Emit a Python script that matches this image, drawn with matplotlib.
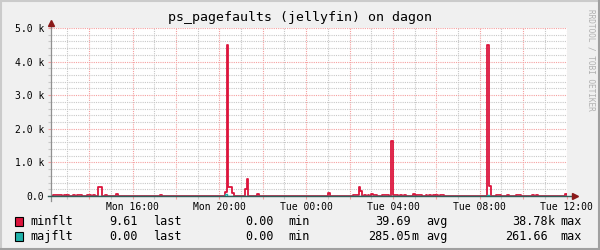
import numpy as np
import matplotlib.pyplot as plt
from matplotlib.patches import Rectangle
from matplotlib.lines import Line2D
from matplotlib.ticker import MultipleLocator

# sample start, minutes after Mon 12:00 (5 min steps), and values
minflt_min = [20, 25, 30, 35, 40, 50, 60, 75, 85, 90, 95, 115, 120, 130, 145, 150,
              165, 195, 315, 495, 500, 505, 510, 515, 550, 555, 585, 780,
              850, 855, 860, 865, 870, 880, 890, 900, 905, 910, 930, 935, 940, 945,
              955, 960, 965, 970, 980, 990, 1015, 1025, 1030, 1035, 1050, 1060, 1070,
              1080, 1090, 1095, 1220, 1225, 1245, 1250, 1255, 1275, 1300, 1305, 1310,
              1345, 1355, 1435]
minflt_val = [40, 40, 40, 40, 40, 40, 40, 40, 40, 40, 40, 40, 40, 40, 260, 260,
              40, 60, 40, 120, 4480, 270, 270, 90, 210, 510, 60, 90,
              40, 40, 40, 270, 150, 40, 40, 60, 40, 40, 40, 40, 40, 40,
              1640, 40, 40, 40, 40, 40, 60, 40, 40, 40, 40, 40, 40,
              40, 40, 40, 4500, 300, 40, 40, 40, 40, 40, 40, 40,
              40, 40, 60]
majflt_min = [495, 1220]
majflt_val = [60, 40]

xtick_hours = [4, 8, 12, 16, 20, 24]
xtick_labels = ['Mon 16:00', 'Mon 20:00', 'Tue 00:00', 'Tue 04:00', 'Tue 08:00', 'Tue 12:00']
ytick_vals = [0, 1000, 2000, 3000, 4000, 5000]
ytick_labels = ['0.0', '1.0 k', '2.0 k', '3.0 k', '4.0 k', '5.0 k']

names = ['minflt', 'majflt']
colors = ['#DC143C', '#20B2AA']
last_vals = ['9.61', '0.00']
min_vals = ['0.00', '0.00']
avg_vals = ['39.69', '285.05']
avg_suffix = ['', 'm']
max_vals = ['38.78', '261.66']
max_suffix = ['k', '']

W, H = 600, 250
mono = 'DejaVu Sans Mono'


def fx(x):
    return x / W


def fy(y):
    return 1 - y / H


t = np.arange(3, 289) * 5
def series(mins, vals):
    y = np.zeros(len(t))
    for m, v in zip(mins, vals):
        y[np.searchsorted(t, m)] = v
    return y

minflt = series(minflt_min, minflt_val)
majflt = series(majflt_min, majflt_val)

fig = plt.figure(figsize=(6, 2.5), dpi=100, facecolor='#F0F0F0')
ax = fig.add_axes([fx(51), fy(196), fx(567 - 51), (196 - 28) / H])
ax.set_facecolor('white')

ax.plot(t / 60, minflt, drawstyle='steps-post', color=colors[0], lw=1.3, zorder=3)
ax.plot(t / 60, majflt, drawstyle='steps-post', color=colors[1], lw=1.0, zorder=4)

ax.set_xlim(0.24, 24.02)
ax.set_ylim(0, 5000)

# grid
ax.xaxis.set_major_locator(MultipleLocator(2))
ax.xaxis.set_minor_locator(MultipleLocator(1))
ax.yaxis.set_major_locator(MultipleLocator(1000))
ax.yaxis.set_minor_locator(MultipleLocator(200))
ax.set_axisbelow(True)
ax.grid(which='major', color='#F5A0A0', linestyle=(0, (1, 1)), lw=0.8)
ax.grid(which='minor', color='#C8C8C8', linestyle=(0, (1, 1)), lw=0.8)

majors = np.arange(2, 25, 2)
ax.set_xticks(majors)
ax.set_xticklabels([xtick_labels[xtick_hours.index(h)] if h in xtick_hours else '' for h in majors],
                   family=mono, fontsize=7)
ax.set_yticks(ytick_vals)
ax.set_yticklabels(ytick_labels, family=mono, fontsize=7)
ax.tick_params(which='major', length=2.5, width=0.8, color='#F5A0A0', pad=2.5)
ax.tick_params(which='minor', length=2.5, width=0.8, color='#C8C8C8')
ax.tick_params(axis='x', pad=2)

for s in ['top', 'right', 'left', 'bottom']:
    ax.spines[s].set_visible(False)

# axes lines with arrows
ax.plot([0, 0], [-0.03, 1.015], transform=ax.transAxes, color='#909090', lw=0.9,
        clip_on=False, zorder=5)
ax.plot([-0.006, 1.012], [0, 0], transform=ax.transAxes, color='#2F5F5A', lw=1.0,
        clip_on=False, zorder=5)
ax.plot([0], [1.03], transform=ax.transAxes, marker='^', ms=4, color='#8B1A1A',
        clip_on=False, zorder=6)
ax.plot([1.016], [0], transform=ax.transAxes, marker='>', ms=4, color='#8B1A1A',
        clip_on=False, zorder=6)

fig.text(fx(300), fy(18), 'ps_pagefaults (jellyfin) on dagon', family=mono,
         fontsize=9.5, ha='center', va='center')
fig.text(fx(591), fy(60), 'RRDTOOL / TOBI OETIKER', family=mono, fontsize=5.6,
         color='#B0B0B0', rotation=270, ha='center', va='center')

# legend
rows_y = [221.5, 236.5]
for i in range(2):
    y = fy(rows_y[i])
    fig.patches.append(Rectangle((fx(15), fy(rows_y[i] + 4.5)), fx(8), 9 / H,
                                 transform=fig.transFigure, facecolor=colors[i],
                                 edgecolor='black', lw=0.8))
    kw = dict(family=mono, fontsize=8.5, va='center')
    fig.text(fx(30), y, names[i], ha='left', **kw)
    fig.text(fx(138), y, last_vals[i], ha='right', **kw)
    fig.text(fx(153), y, 'last', ha='left', **kw)
    fig.text(fx(274), y, min_vals[i], ha='right', **kw)
    fig.text(fx(288), y, 'min', ha='left', **kw)
    fig.text(fx(411), y, avg_vals[i], ha='right', **kw)
    fig.text(fx(411), y, avg_suffix[i], ha='left', **kw)
    fig.text(fx(426), y, 'avg', ha='left', **kw)
    fig.text(fx(548), y, max_vals[i], ha='right', **kw)
    fig.text(fx(548), y, max_suffix[i], ha='left', **kw)
    fig.text(fx(560), y, 'max', ha='left', **kw)

# frame shading
fig.add_artist(Line2D([0, 1], [fy(0.5), fy(0.5)], transform=fig.transFigure, color='#CBCBCB', lw=1.5))
fig.add_artist(Line2D([fx(0.5), fx(0.5)], [0, 1], transform=fig.transFigure, color='#CBCBCB', lw=1.5))
fig.add_artist(Line2D([0, 1], [fy(249), fy(249)], transform=fig.transFigure, color='#A0A0A0', lw=1.5))
fig.add_artist(Line2D([fx(599), fx(599)], [0, 1], transform=fig.transFigure, color='#A0A0A0', lw=1.5))

fig.savefig('out.png', dpi=100, facecolor=fig.get_facecolor())
plt.close(fig)
